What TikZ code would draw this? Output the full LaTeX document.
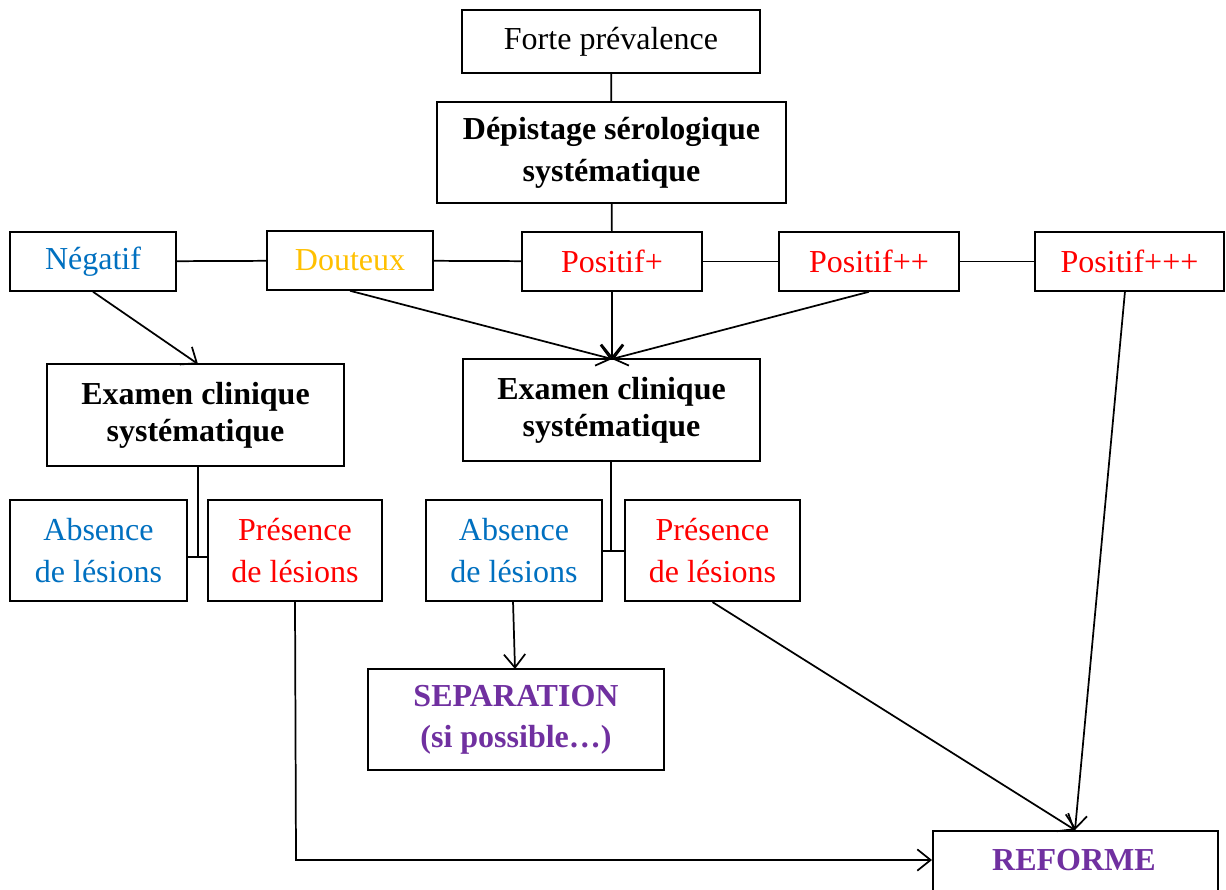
\documentclass[tikz,border=0pt]{standalone}
\usepackage{fontspec}
\setmainfont{Liberation Serif}
\usetikzlibrary{arrows.meta}
\definecolor{cblue}{HTML}{0070C0}
\definecolor{cyellow}{HTML}{FFC000}
\definecolor{cred}{HTML}{FF0000}
\definecolor{cpurple}{HTML}{7030A0}
\begin{document}
\begin{tikzpicture}[x=0.75pt,y=-0.75pt,
  box/.style={draw=black, line width=1.4pt, inner sep=0pt, align=center, font=\fontsize{24}{31}\selectfont},
  bbox/.style={box, font=\fontsize{24}{31}\selectfont\bfseries},
  link/.style={line width=1.3pt},
  arr/.style={line width=1.3pt, -{Straight Barb[length=10pt,width=16pt,line width=1.3pt]}}]
\useasboundingbox[fill=white] (0,0) rectangle (1226,889);
% boxes: centre, size
\node[box, minimum width=224pt, minimum height=47pt] (forte) at (611,41.5) {Forte prévalence};
\node[bbox, minimum width=262pt, minimum height=76pt, font=\fontsize{24}{31.5}\selectfont\bfseries] (depist) at (611.5,152.5) {Dépistage sérologique\\systématique};
\node[box, text=cblue, minimum width=124.5pt, minimum height=44pt] (neg) at (93,261.5) {Négatif};
\node[box, text=cyellow, minimum width=124.5pt, minimum height=44pt] (dout) at (350,260.5) {Douteux};
\node[box, text=cred, minimum width=135pt, minimum height=44pt] (pos1) at (612,261.5) {Positif+};
\node[box, text=cred, minimum width=135pt, minimum height=44pt] (pos2) at (869,261.5) {Positif++};
\node[box, text=cred, minimum width=141.5pt, minimum height=44pt] (pos3) at (1129.5,261.5) {Positif+++};
\node[bbox, minimum width=223pt, minimum height=76.5pt, font=\fontsize{24}{27.75}\selectfont\bfseries] (exam1) at (195.5,415) {Examen clinique\\systématique};
\node[bbox, minimum width=223pt, minimum height=76.5pt, font=\fontsize{24}{27.75}\selectfont\bfseries] (exam2) at (611.5,410) {Examen clinique\\systématique};
\node[box, text=cblue, minimum width=133pt, minimum height=76pt] (abs1) at (98.5,550.5) {Absence\\de lésions};
\node[box, text=cred, minimum width=130.5pt, minimum height=76pt] (pres1) at (295,550.5) {Présence\\de lésions};
\node[box, text=cblue, minimum width=132pt, minimum height=76pt] (abs2) at (514,550.5) {Absence\\de lésions};
\node[box, text=cred, minimum width=131pt, minimum height=76pt] (pres2) at (712.5,550.5) {Présence\\de lésions};
\node[bbox, text=cpurple, minimum width=222pt, minimum height=76pt] (sep) at (516,719.5) {SEPARATION\\(si possible…)};
\node[bbox, text=cpurple, minimum width=214pt, minimum height=80pt, anchor=north west] (ref) at (932,830) {};
\node[font=\fontsize{24}{31}\selectfont\bfseries, text=cpurple] (reftxt) at (1074,860) {REFORME};
% connectors
\draw[link] (forte) -- (depist);
\draw[link] (depist) -- (pos1);
\draw[link] (neg) -- (dout);
\draw[link] (dout) -- (pos1);
\draw[link] (pos1) -- (pos2);
\draw[link] (pos2) -- (pos3);
\coordinate (ex2top) at (612,359);
\coordinate (ex1top) at (198,364);
\draw[arr] (neg.south) -- (ex1top);
\draw[arr] (dout.south) -- (ex2top);
\draw[arr] (pos1.south) -- (ex2top);
\draw[arr] (pos2.south) -- (ex2top);
% examen to absence/presence
\coordinate (j1) at (198,557);
\coordinate (j2) at (611,551);
\draw[link] (exam1.south -| j1) -- (j1);
\draw[link] (abs1.east |- j1) -- (pres1.west |- j1);
\draw[link] (exam2.south -| j2) -- (j2);
\draw[link] (abs2.east |- j2) -- (pres2.west |- j2);
% to separation / reforme
\coordinate (septop) at (515,669);
\coordinate (reftop) at (1075,830);
\coordinate (refleft) at (932,860);
\draw[arr] (513,601) -- (septop);
\draw[arr] (pres1.south) -- (296,860) -- (refleft);
\draw[arr] (pres2.south) -- (reftop);
\draw[arr] (1125,291) -- (reftop);
\end{tikzpicture}
\end{document}
